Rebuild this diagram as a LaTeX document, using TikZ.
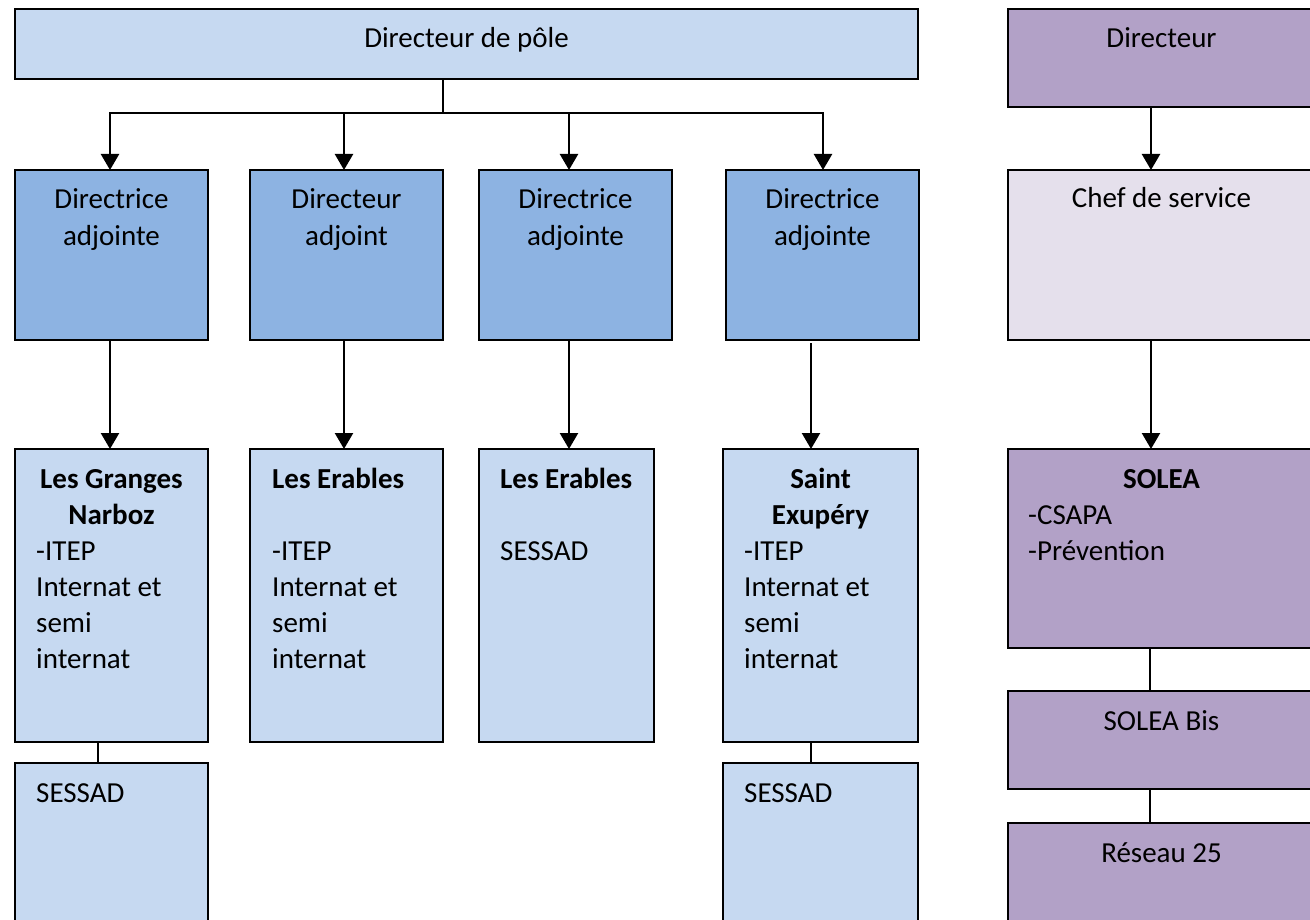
\documentclass[tikz,border=0pt]{standalone}
\usepackage{fontspec}
\setmainfont{Carlito}
\usetikzlibrary{arrows.meta}
\definecolor{lightblue}{HTML}{C6D9F1}
\definecolor{midblue}{HTML}{8DB3E2}
\definecolor{purp}{HTML}{B2A1C7}
\definecolor{lightpurp}{HTML}{E5E0EC}
\tikzset{
  box/.style={draw=black, line width=1.8pt, rectangle, inner sep=0pt, outer sep=0pt},
  txt/.style={inner sep=0pt, anchor=base, font=\fontsize{29}{36}\selectfont},
  ltxt/.style={txt, anchor=base west},
  btxt/.style={txt, font=\fontsize{29}{36}\selectfont\bfseries},
  bltxt/.style={ltxt, font=\fontsize{29}{36}\selectfont\bfseries},
  arr/.style={line width=2.4pt, -{Triangle[length=16pt,width=18pt]}},
  link/.style={line width=1.8pt},
}
\begin{document}
\begin{tikzpicture}[x=1pt,y=-1pt]
\useasboundingbox (0,0) rectangle (1310,920);
\clip (0,0) rectangle (1310,920);

% ---- boxes ----
\node[box, fill=lightblue, minimum width=903pt, minimum height=70pt] (pole) at (466.5,44) {};
\node[box, fill=midblue, minimum width=193pt, minimum height=170pt] (d1) at (111.5,255) {};
\node[box, fill=midblue, minimum width=193pt, minimum height=170pt] (d2) at (346.5,255) {};
\node[box, fill=midblue, minimum width=193pt, minimum height=170pt] (d3) at (575.5,255) {};
\node[box, fill=midblue, minimum width=193pt, minimum height=170pt] (d4) at (822.5,255) {};
\node[box, fill=lightblue, minimum width=193pt, minimum height=293pt] (e1) at (111.5,595.5) {};
\node[box, fill=lightblue, minimum width=193pt, minimum height=293pt] (e2) at (346.5,595.5) {};
\node[box, fill=lightblue, minimum width=175pt, minimum height=293pt] (e3) at (566.5,595.5) {};
\node[box, fill=lightblue, minimum width=195pt, minimum height=293pt] (e4) at (820.5,595.5) {};
\node[box, fill=lightblue, minimum width=193pt, minimum height=162pt] (s1) at (111.5,844) {};
\node[box, fill=lightblue, minimum width=195pt, minimum height=162pt] (s4) at (820.5,844) {};
\node[box, fill=purp, minimum width=307pt, minimum height=98pt] (dir) at (1161.5,58) {};
\node[box, fill=lightpurp, minimum width=307pt, minimum height=170pt] (chef) at (1161.5,255) {};
\node[box, fill=purp, minimum width=307pt, minimum height=199pt] (solea) at (1161.5,548.5) {};
\node[box, fill=purp, minimum width=307pt, minimum height=98pt] (bis) at (1161.5,740) {};
\node[box, fill=purp, minimum width=307pt, minimum height=102pt] (res) at (1161.5,874) {};

% ---- texts ----
\node[txt] (tpole) at (466.5,48) {Directeur de pôle};
\node[txt] (td1a) at (111.5,209) {Directrice};
\node[txt] (td1b) at (111.5,246) {adjointe};
\node[txt] (td2a) at (346.5,209) {Directeur};
\node[txt] (td2b) at (346.5,246) {adjoint};
\node[txt] (td3a) at (575.5,209) {Directrice};
\node[txt] (td3b) at (575.5,246) {adjointe};
\node[txt] (td4a) at (822.5,209) {Directrice};
\node[txt] (td4b) at (822.5,246) {adjointe};

\node[btxt] (te1a) at (111.5,488) {Les Granges};
\node[btxt] (te1b) at (111.5,524) {Narboz};
\node[ltxt] (te1c) at (36,560) {-ITEP};
\node[ltxt] (te1d) at (36,596) {Internat et};
\node[ltxt] (te1e) at (36,632) {semi};
\node[ltxt] (te1f) at (36,668) {internat};

\node[bltxt] (te2a) at (272,488) {Les Erables};
\node[ltxt] (te2c) at (272,560) {-ITEP};
\node[ltxt] (te2d) at (272,596) {Internat et};
\node[ltxt] (te2e) at (272,632) {semi};
\node[ltxt] (te2f) at (272,668) {internat};

\node[bltxt] (te3a) at (500,488) {Les Erables};
\node[ltxt] (te3b) at (500,560) {SESSAD};

\node[btxt] (te4a) at (820.5,488) {Saint};
\node[btxt] (te4b) at (820.5,524) {Exupéry};
\node[ltxt] (te4c) at (744,560) {-ITEP};
\node[ltxt] (te4d) at (744,596) {Internat et};
\node[ltxt] (te4e) at (744,632) {semi};
\node[ltxt] (te4f) at (744,668) {internat};

\node[ltxt] (ts1) at (36,802) {SESSAD};
\node[ltxt] (ts4) at (744,802) {SESSAD};

\node[txt] (tdir) at (1161.5,48) {Directeur};
\node[txt] (tchef) at (1161.5,208) {Chef de service};
\node[btxt] (tsolea) at (1161.5,488) {SOLEA};
\node[ltxt] (tsoleab) at (1028,524) {-CSAPA};
\node[ltxt] (tsoleac) at (1028,560) {-Prévention};
\node[txt] (tbis) at (1161.5,730) {SOLEA Bis};
\node[txt] (tres) at (1161.5,862) {Réseau 25};

% ---- connectors ----
\coordinate (b0) at (443,113);
\coordinate (b1) at (110,113);
\coordinate (b2) at (344,113);
\coordinate (b3) at (569,113);
\coordinate (b4) at (823,113);
\draw[link] (pole.south -| b0) -- (b0);
\draw[link, line cap=rect] (b1) -- (b4);
\draw[arr] (b1) -- (b1 |- d1.north);
\draw[arr] (b2) -- (b2 |- d2.north);
\draw[arr] (b3) -- (b3 |- d3.north);
\draw[arr] (b4) -- (b4 |- d4.north);

\coordinate (c4) at (811,343);
\draw[arr] (d1.south -| b1) -- (e1.north -| b1);
\draw[arr] (d2.south -| b2) -- (e2.north -| b2);
\draw[arr] (d3.south -| b3) -- (e3.north -| b3);
\draw[arr] (c4) -- (e4.north -| c4);

\coordinate (k1) at (98,742);
\draw[link] (e1.south -| k1) -- (s1.north -| k1);
\draw[link] (e4.south -| c4) -- (s4.north -| c4);

\coordinate (r0) at (1151,107);
\coordinate (r1) at (1150,650);
\draw[arr] (dir.south -| r0) -- (chef.north -| r0);
\draw[arr] (chef.south -| r0) -- (solea.north -| r0);
\draw[link] (solea.south -| r1) -- (bis.north -| r1);
\draw[link] (bis.south -| r1) -- (res.north -| r1);
\end{tikzpicture}
\end{document}
